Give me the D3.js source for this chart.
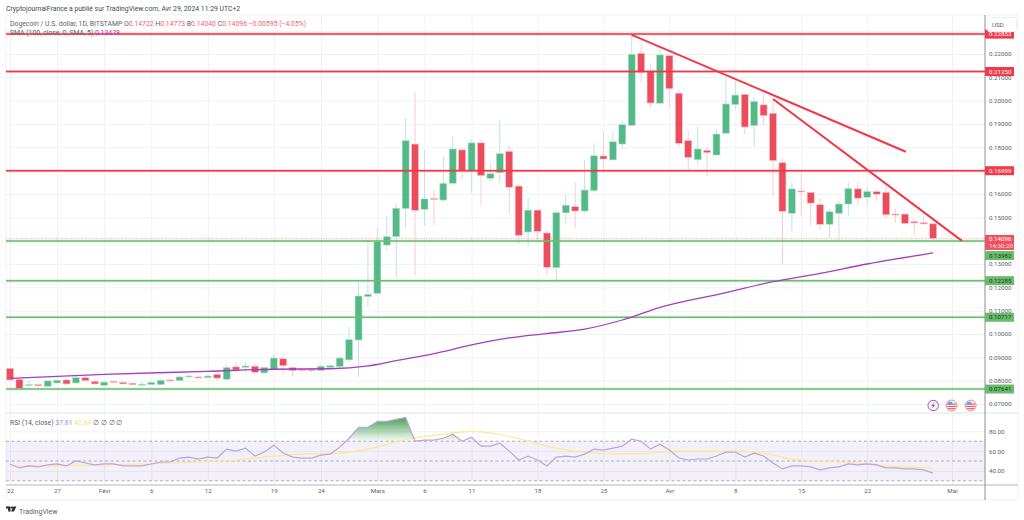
<!DOCTYPE html>
<meta charset="utf-8">
<script src="https://cdnjs.cloudflare.com/ajax/libs/d3/7.8.5/d3.min.js"></script>
<style>
html, body { margin: 0; padding: 0; background: #fff; }
svg { display: block; }
text { font-family: Roboto, sans-serif; font-size: 6.2px; fill: #5d606b; }
.head text, text.head { font-size: 6.85px; }
.grid line { stroke: #eef2f5; stroke-width: 1px; }
.grid path, .axis path, .axis line { display: none; }
.wick { stroke-width: 1px; }
.trend { stroke: #f23645; stroke-width: 2px; fill: none; }
.sma { stroke: #a63cc0; stroke-width: 1.3px; fill: none; }
.rsi { stroke: #b9a5e0; stroke-width: 1.2px; fill: none; }
.rsima { stroke: #fbe98f; stroke-width: 1.2px; fill: none; }
</style>
<body>
<script>

// daily candles, index 0 = 22 Jan 2024
var opens = [.0853,.0806,.0779,.0783,.0776,.0790,.0803,.0790,.0813,.0797,.0780,.0797,.0793,.0789,.0783,.0783,.0783,.0803,.0800,.0818,
  .0816,.0813,.0827,.0806,.0859,.0857,.0862,.0833,.0849,.0894,.0856,.0848,.0847,.0843,.0857,.0860,.0889,.0974,.1160,.1174,
  .1381,.1417,.1537,.1814,.1534,.1581,.1574,.1646,.1789,.1699,.1819,.1667,.1691,.1783,.1634,.1437,.1531,.1433,.1284,.1519,
  .1546,.1527,.1614,.1763,.1746,.1814,.1894,.2203,.2127,.1989,.2193,.2032,.1829,.1747,.1787,.1767,.1860,.1983,.2027,.1893,
  .1982,.1946,.1734,.1517,.1613,.1607,.1554,.1470,.1517,.1557,.1622,.1586,.1610,.1607,.1514,.1514,.1482,.1477,.14722];
var highs = [.0856,.0817,.0800,.0790,.0801,.0804,.0810,.0822,.0818,.0805,.0796,.0800,.0796,.0791,.0795,.0795,.0806,.0807,.0820,.0828,
  .0822,.0830,.0836,.0870,.0879,.0880,.0870,.0860,.0913,.0914,.0860,.0855,.0855,.0864,.0870,.0905,.1030,.1224,.1403,.1454,
  .1507,.1560,.1925,.2037,.1789,.1617,.1760,.1847,.1789,.1835,.1832,.1736,.1917,.1809,.1647,.1586,.1531,.1443,.1529,.1600,
  .1649,.1746,.1817,.1865,.1863,.1910,.2281,.2243,.2160,.2231,.2193,.2049,.1871,.1891,.1803,.1877,.2110,.2089,.2027,.2017,
  .2029,.2003,.1753,.1649,.1691,.1607,.1582,.1536,.1570,.1649,.1652,.1629,.1624,.1634,.1536,.1514,.1492,.1506,.14773];
var lows = [.0800,.0764,.0775,.0775,.0775,.0788,.0784,.0788,.0798,.0784,.0778,.0792,.0784,.0781,.0779,.0781,.0782,.0798,.0799,.0810,
  .0808,.0808,.0800,.0800,.0838,.0833,.0822,.0830,.0845,.0824,.0820,.0838,.0835,.0841,.0850,.0855,.0880,.0816,.1117,.1170,
  .1360,.1243,.1453,.1253,.1464,.1467,.1565,.1639,.1660,.1606,.1552,.1653,.1649,.1514,.1386,.1372,.1403,.1253,.1231,.1474,
  .1453,.1517,.1610,.1703,.1743,.1796,.1890,.2077,.1967,.1989,.1972,.1800,.1703,.1724,.1677,.1767,.1860,.1960,.1856,.1803,
  .1896,.1589,.1300,.1441,.1506,.1464,.1446,.1410,.1403,.1507,.1553,.1555,.1570,.1493,.1477,.1470,.1427,.1468,.14040];
var closes = [.0803,.0766,.0783,.0778,.0799,.0802,.0786,.0813,.0800,.0786,.0794,.0795,.0786,.0783,.0785,.0793,.0802,.0801,.0816,.0820,
  .0814,.0820,.0811,.0857,.0846,.0863,.0836,.0857,.0897,.0864,.0843,.0844,.0844,.0862,.0864,.0897,.0976,.1163,.1170,.1396,
  .1417,.1539,.1829,.1530,.1579,.1577,.1646,.1793,.1700,.1819,.1679,.1687,.1773,.1629,.1423,.1531,.1440,.1286,.1520,.1552,
  .1527,.1617,.1764,.1750,.1824,.1897,.2199,.2122,.1990,.2196,.2051,.1817,.1757,.1793,.1777,.1857,.1986,.2024,.1887,.1997,
  .1936,.1743,.1526,.1622,.1610,.1561,.1470,.1524,.1557,.1624,.1582,.1611,.1599,.1511,.1511,.1474,.1476,.1472,.14096];

// SMA 100, read at a few days
var smaDays = [0,10,21,28,34,38,41,45,49,53,57,61,65,69,76,81,86,91,98];
var smaValues = [.0810,.0827,.0840,.0849,.0851,.0863,.0886,.0916,.0953,.0983,.1002,.1021,.1060,.1114,.1177,.1224,.1260,.1300,.13478];

// RSI for every day
var rsiValues = [47,43,45,44,46,47,45,50,48,46,47,47,45,45,45,47,49,49,53,54,
  52,54,53,62,60,63,55,59,66,58,54,53,53,56,57,64,73,84,84,90,
  90,92,94,70,71,71,73,77,70,74,65,65,68,60,51,55,51,45,54,55,
  54,57,62,61,63,65,72,70,62,67,61,53,51,52,52,55,59,59,54,58,
  55,48,42,45,45,44,41,43,44,47,46,47,46,43,43,42,42,41,37.81];

// RSI moving average
var rsiMaDays = [0,10,20,24,28,31,35,39,42,46,49,52,55,58,62,64,68,71,77,80,83,86,91,93,98];
var rsiMaValues = [45,46,49,51,55,57,58,64,72,77,80,77,70,63,58,57,58,60,60,58,52,50,47,45,42.84];

// horizontal levels
var levelValues = [.22852,.2125,.16999,.13982,.12285,.10717,.07641];
var levelLabels = ["0.22852","0.21250","0.16999","0.13982","0.12285","0.10717","0.07641"];
var levelUp = [true,true,true,false,false,false,false];

// trend lines [day, price]
var trendA = [[66,.2282],[95.1,.1781]];
var trendB = [[81,.2007],[101.06,.1399]];

var priceTicks = [.07,.08,.09,.10,.11,.12,.13,.14,.15,.16,.17,.18,.19,.20,.21,.22];
var priceTicksHidden = [.14,.17];   // covered by the price boxes in the picture
var priceGridExtra = [.23];
var rsiTicks = [40,60,80];
var rsiBands = [70,50,30];
var timeDays = [0,5,10,15,21,28,33,39,44,49,56,63,70,77,84,91,100];
var timeLabels = ["22","27","Févr","6","12","19","24","Mars","6","11","18","25","Avr","8","15","22","Mai"];

var lastPrice = 0.14096;
var upColor = "#53b987", downColor = "#ec4d5c";
var upWick = "#c5e3dc", downWick = "#f9cdd2";
var redLine = "#f23645", greenLine = "#6dbd72";

// pane layout
var plotLeft = 6, axisX = 985, plotRight = 1018, plotTop = 15, paneBottom = 413, rsiBottom = 485, plotBottom = 500;

var svg = d3.select("body").append("svg")
    .attr("width", 1024)
    .attr("height", 520);

// scales
var x = d3.scaleLinear().domain([0, 100]).range([10, 952]);
var y = d3.scaleLinear().domain([.07, .22]).range([404, 54]);
var yr = d3.scaleLinear().domain([80, 40]).range([431.3, 470.9]);

// gradient under the overbought part of the RSI
var defs = svg.append("defs");
var grad = defs.append("linearGradient")
    .attr("id", "obFill")
    .attr("gradientUnits", "userSpaceOnUse")
    .attr("x1", 0).attr("x2", 0)
    .attr("y1", yr(94)).attr("y2", yr(70));
grad.append("stop").attr("offset", 0).attr("stop-color", "#3f9c4a").attr("stop-opacity", 0.95);
grad.append("stop").attr("offset", 1).attr("stop-color", "#3f9c4a").attr("stop-opacity", 0.03);
defs.append("clipPath").attr("id", "above70")
  .append("rect")
    .attr("x", plotLeft).attr("width", axisX - plotLeft)
    .attr("y", plotTop).attr("height", yr(70) - plotTop);

// vertical grid
svg.append("g")
    .attr("class", "grid")
    .attr("transform", "translate(0," + rsiBottom + ")")
    .call(d3.axisBottom(x).tickValues(timeDays).tickSize(plotTop - rsiBottom).tickFormat(""));

// horizontal grid, price pane
svg.append("g")
    .attr("class", "grid")
    .attr("transform", "translate(" + plotLeft + ",0)")
    .call(d3.axisRight(y).tickValues(priceTicks.concat(priceGridExtra)).tickSize(axisX - plotLeft).tickFormat(""));

// horizontal grid, rsi pane
svg.append("g")
    .attr("class", "grid")
    .attr("transform", "translate(" + plotLeft + ",0)")
    .call(d3.axisRight(yr).tickValues(rsiTicks).tickSize(axisX - plotLeft).tickFormat(""));

// frame
var frame = svg.append("g");
frame.append("path")
    .attr("d", "M" + plotLeft + " " + plotBottom + "V" + plotTop + "H" + plotRight + "V" + plotBottom + "H" + plotLeft)
    .attr("fill", "none").attr("stroke", "#eef1f4");
frame.append("line")
    .attr("x1", plotLeft).attr("x2", plotRight)
    .attr("y1", paneBottom).attr("y2", paneBottom)
    .attr("stroke", "#eef1f4").attr("stroke-width", 2);

// last price dotted line
svg.append("line")
    .attr("x1", plotLeft).attr("x2", axisX)
    .attr("y1", y(lastPrice)).attr("y2", y(lastPrice))
    .attr("stroke", "#f7a9b0").attr("stroke-width", 1).attr("stroke-dasharray", "1,1.5");

// candles
var days = d3.range(opens.length);
svg.append("g").selectAll("line")
    .data(days)
  .enter().append("line")
    .attr("class", "wick")
    .attr("x1", function(d) { return x(d); })
    .attr("x2", function(d) { return x(d); })
    .attr("y1", function(d) { return y(highs[d]); })
    .attr("y2", function(d) { return y(lows[d]); })
    .attr("stroke", function(d) { return closes[d] >= opens[d] ? upWick : downWick; });

svg.append("g").selectAll("rect")
    .data(days)
  .enter().append("rect")
    .attr("x", function(d) { return x(d) - 3.5; })
    .attr("width", 7)
    .attr("y", function(d) { return y(Math.max(opens[d], closes[d])); })
    .attr("height", function(d) { return Math.max(1, Math.abs(y(opens[d]) - y(closes[d]))); })
    .attr("fill", function(d) { return closes[d] >= opens[d] ? upColor : downColor; })
    .attr("stroke", function(d) { return closes[d] >= opens[d] ? "#bfe3d3" : "#f9c3c9"; })
    .attr("stroke-width", 0.6);

// levels, a pale halo then the line
var levelG = svg.append("g");
levelValues.forEach(function(v, i) {
  levelG.append("line")
      .attr("x1", plotLeft).attr("x2", axisX)
      .attr("y1", y(v)).attr("y2", y(v))
      .attr("stroke", levelUp[i] ? redLine : greenLine)
      .attr("stroke-opacity", 0.22)
      .attr("stroke-width", 3);
  levelG.append("line")
      .attr("x1", plotLeft).attr("x2", axisX)
      .attr("y1", y(v)).attr("y2", y(v))
      .attr("stroke", levelUp[i] ? redLine : greenLine)
      .attr("stroke-width", 1.5);
});

// sma line
var smaLine = d3.line()
    .x(function(d, i) { return x(smaDays[i]); })
    .y(function(d) { return y(d); })
    .curve(d3.curveMonotoneX);
svg.append("path")
    .attr("class", "sma")
    .attr("d", smaLine(smaValues));

// trend lines
var trendLine = d3.line()
    .x(function(d) { return x(d[0]); })
    .y(function(d) { return y(d[1]); });
svg.append("path").attr("class", "trend").attr("d", trendLine(trendA));
svg.append("path").attr("class", "trend").attr("d", trendLine(trendB));

// rsi band
svg.append("rect")
    .attr("x", plotLeft).attr("width", axisX - plotLeft)
    .attr("y", yr(70)).attr("height", yr(30) - yr(70))
    .attr("fill", "#7e57c2").attr("fill-opacity", 0.09);
rsiBands.forEach(function(v) {
  svg.append("line")
      .attr("x1", plotLeft).attr("x2", axisX)
      .attr("y1", yr(v)).attr("y2", yr(v))
      .attr("stroke", "#9a9ca6").attr("stroke-width", 0.8).attr("stroke-dasharray", "3,2.5");
});

// overbought fill
var obArea = d3.area()
    .x(function(d, i) { return x(i); })
    .y0(yr(70))
    .y1(function(d) { return yr(d); });
svg.append("path")
    .attr("clip-path", "url(#above70)")
    .attr("fill", "url(#obFill)")
    .attr("d", obArea(rsiValues));

// rsi ma and rsi
var rsiMaLine = d3.line()
    .x(function(d, i) { return x(rsiMaDays[i]); })
    .y(function(d) { return yr(d); })
    .curve(d3.curveMonotoneX);
svg.append("path").attr("class", "rsima").attr("d", rsiMaLine(rsiMaValues));

var rsiLine = d3.line()
    .x(function(d, i) { return x(i); })
    .y(function(d) { return yr(d); });
svg.append("path").attr("class", "rsi").attr("d", rsiLine(rsiValues));

// rsi pane bottom rule and price axis rule
svg.append("line")
    .attr("x1", plotLeft).attr("x2", plotRight)
    .attr("y1", rsiBottom).attr("y2", rsiBottom)
    .attr("stroke", "#b2b5be").attr("stroke-width", 1.2);
svg.append("line")
    .attr("x1", axisX).attr("x2", axisX)
    .attr("y1", plotTop).attr("y2", plotBottom)
    .attr("stroke", "#8a8d96").attr("stroke-width", 1);

// axes
var shownTicks = priceTicks.filter(function(d) { return priceTicksHidden.indexOf(d) < 0; });
svg.append("g")
    .attr("class", "axis")
    .attr("transform", "translate(" + axisX + ",0)")
    .call(d3.axisRight(y).tickValues(shownTicks).tickSize(0).tickPadding(4).tickFormat(d3.format(".5f")));
svg.append("g")
    .attr("class", "axis")
    .attr("transform", "translate(" + axisX + ",0)")
    .call(d3.axisRight(yr).tickValues(rsiTicks).tickSize(0).tickPadding(4).tickFormat(d3.format(".2f")));
svg.append("g")
    .attr("class", "axis")
    .attr("transform", "translate(0," + rsiBottom + ")")
    .call(d3.axisBottom(x).tickValues(timeDays).tickSize(0).tickPadding(4)
      .tickFormat(function(d, i) { return timeLabels[i]; }));

// strip the font attributes d3 puts on axis groups
svg.selectAll(".axis").attr("font-size", null).attr("font-family", null);

// level labels on the price axis
var labelG = svg.append("g");
levelValues.forEach(function(v, i) {
  var ly = y(v);
  if (v === .13982) ly += 14.5;   // pushed below the last price box
  labelG.append("rect")
      .attr("x", axisX).attr("y", ly - 4.5)
      .attr("width", 29).attr("height", 9)
      .attr("fill", levelUp[i] ? "#f4394a" : "#69bb6e");
  labelG.append("text")
      .attr("x", axisX + 4).attr("y", ly + 2.2)
      .style("fill", levelUp[i] ? "#fff" : "#1f3d22")
      .text(levelLabels[i]);
});

// last price box with countdown
labelG.append("rect")
    .attr("x", axisX).attr("y", y(lastPrice) - 3.5)
    .attr("width", 29).attr("height", 15)
    .attr("fill", "#f0505f");
labelG.append("text")
    .attr("x", axisX + 4).attr("y", y(lastPrice) + 2.4)
    .style("fill", "#fff").text("0.14096");
labelG.append("text")
    .attr("x", axisX + 4).attr("y", y(lastPrice) + 9.8)
    .style("fill", "#fde3e5").text("14:30:20");

// currency box
var usd = svg.append("g");
usd.append("rect")
    .attr("x", 987.5).attr("y", 17.5)
    .attr("width", 29).attr("height", 14).attr("rx", 2)
    .attr("fill", "#fff").attr("stroke", "#eef1f4");
usd.append("text").attr("x", 992).attr("y", 27).text("USD");

// header texts
svg.append("text").attr("class", "head").attr("x", 6).attr("y", 10.5).style("fill", "#454852")
    .text("CryptojournalFrance a publié sur TradingView.com, Avr 29, 2024 11:29 UTC+2");

var legend1 = svg.append("text").attr("class", "head").attr("x", 10).attr("y", 25.5);
legend1.append("tspan").text("Dogecoin / U.S. dollar, 1D, BITSTAMP   O");
legend1.append("tspan").style("fill", "#f4606d").text("0.14722");
legend1.append("tspan").text("  H");
legend1.append("tspan").style("fill", "#f4606d").text("0.14773");
legend1.append("tspan").text("  B");
legend1.append("tspan").style("fill", "#f4606d").text("0.14040");
legend1.append("tspan").text("  C");
legend1.append("tspan").style("fill", "#f4606d").text("0.14096  −0.00595 (−4.05%)");

var legend2 = svg.append("text").attr("class", "head").attr("x", 10).attr("y", 35);
legend2.append("tspan").text("SMA (100, close, 0, SMA, 5)  ");
legend2.append("tspan").style("fill", "#a63cc0").text("0.13478");

var legend3 = svg.append("text").attr("class", "head").attr("x", 10).attr("y", 424.5);
legend3.append("tspan").text("RSI (14, close)  ");
legend3.append("tspan").style("fill", "#9f8bd6").text("37.81");
legend3.append("tspan").text("  ");
legend3.append("tspan").style("fill", "#f5e27a").text("42.84");
legend3.append("tspan").text("  ∅  ∅  ∅  ∅");

// event icons under the candles
var iconY = 405.5;
var bolt = svg.append("g").attr("transform", "translate(" + x(98) + "," + iconY + ")");
bolt.append("circle").attr("r", 5.2).attr("fill", "#fff").attr("stroke", "#ab47bc").attr("stroke-width", 1);
bolt.append("path").attr("d", "M1.2 -3.2L-2 0.6H-0.2L-1.2 3.2L2 -0.6H0.2Z").attr("fill", "#ab47bc");

[99.95, 101.98].forEach(function(d) {
  var g = svg.append("g").attr("transform", "translate(" + x(d) + "," + iconY + ")");
  g.append("circle").attr("r", 5.4).attr("fill", "#fff").attr("stroke", "#f77c80").attr("stroke-width", 1);
  g.append("rect").attr("x", -4.5).attr("y", -2).attr("width", 9).attr("height", 1.2).attr("fill", "#f7525f");
  g.append("rect").attr("x", -4.2).attr("y", 0.3).attr("width", 8.4).attr("height", 1.2).attr("fill", "#f7525f");
  g.append("rect").attr("x", -3.4).attr("y", 2.6).attr("width", 6.8).attr("height", 1.1).attr("fill", "#f7525f");
  g.append("rect").attr("x", -3.4).attr("y", -3.8).attr("width", 4.2).attr("height", 3.2).attr("fill", "#5aa3f0");
});

// footer mark
var logo = svg.append("g").attr("transform", "translate(6,506)");
logo.append("path").attr("d", "M0 0.5H4.5V5.5H2.2V2.6H0Z").attr("fill", "#1f2330");
logo.append("circle").attr("cx", 6).attr("cy", 1.6).attr("r", 1.1).attr("fill", "#1f2330");
logo.append("path").attr("d", "M5 5.5L7.6 0.5H10.4L7.8 5.5Z").attr("fill", "#1f2330");
svg.append("text").attr("x", 19).attr("y", 513.5).style("font-size", "7px").style("fill", "#5d606b").text("TradingView");

</script>
</body>
